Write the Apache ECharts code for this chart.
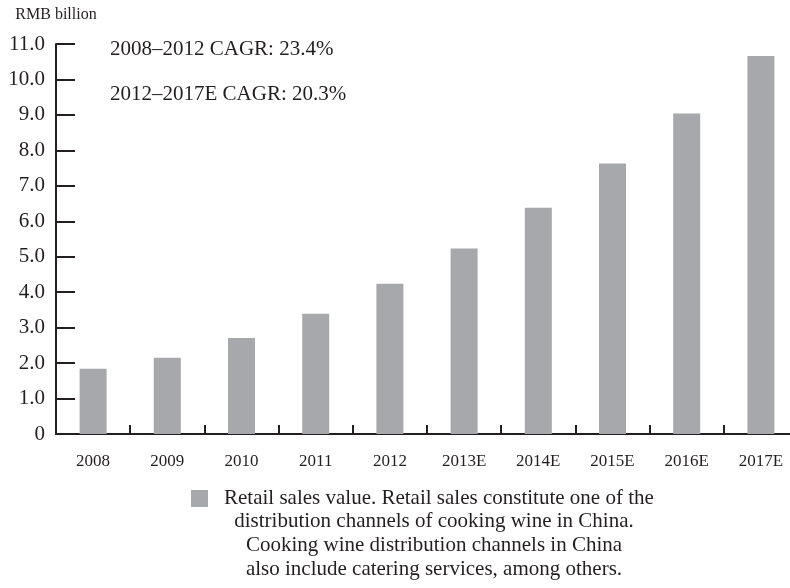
<!DOCTYPE html>
<html>
<head>
<meta charset="utf-8">
<script src="https://cdn.jsdelivr.net/npm/echarts@6/dist/echarts.min.js"></script>
<style>
  html, body { margin: 0; padding: 0; background: #ffffff; }
  #chart { width: 790px; height: 588px; }
</style>
</head>
<body>
<div id="chart"></div>
<script>
// Retail sales value of cooking wine in China, RMB billion
const years = ['2008', '2009', '2010', '2011', '2012', '2013E', '2014E', '2015E', '2016E', '2017E'];
const retailSales = [1.84, 2.15, 2.71, 3.39, 4.24, 5.23, 6.38, 7.63, 9.04, 10.66];
const yTickLabels = ['0', '1.0', '2.0', '3.0', '4.0', '5.0', '6.0', '7.0', '8.0', '9.0', '10.0', '11.0'];
const cagrNotes = ['2008\u20132012 CAGR: 23.4%', '2012\u20132017E CAGR: 20.3%'];
const legendLines = [
  'Retail sales value. Retail sales constitute one of the',
  'distribution channels of cooking wine in China.',
  'Cooking wine distribution channels in China',
  'also include catering services, among others.'
];

const ink = '#231f20';
const barGrey = '#a7a8ab';
const serif = '"Liberation Serif", "Times New Roman", serif';

const chart = echarts.init(document.getElementById('chart'), null, { renderer: 'canvas' });

chart.setOption({
  animation: false,
  backgroundColor: '#ffffff',
  textStyle: { fontFamily: serif, color: ink },
  // plot area runs slightly past the right edge, so the last band is cut off
  grid: { left: 56, top: 44, height: 390, width: 742, containLabel: false, outerBoundsMode: 'none' },
  legend: {
    show: true,
    left: 186,
    top: 483,
    itemWidth: 17,
    itemHeight: 17,
    icon: 'rect',
    data: ['Retail sales value'],
    formatter: function () { return legendLines[0]; },
    textStyle: { fontFamily: serif, fontSize: 21, color: ink, padding: [0, 0, 0, 11] }
  },
  xAxis: {
    type: 'category',
    data: years,
    boundaryGap: true,
    axisLine: { show: true, lineStyle: { color: ink, width: 2 } },
    axisTick: { show: true, inside: true, length: 9, alignWithLabel: false, lineStyle: { color: ink, width: 2 } },
    axisLabel: { color: ink, fontFamily: serif, fontSize: 17, margin: 19, interval: 0 },
    splitLine: { show: false }
  },
  yAxis: {
    type: 'value',
    min: 0,
    max: 11,
    interval: 1,
    name: 'RMB billion',
    nameLocation: 'end',
    nameGap: 21,
    nameTextStyle: { color: ink, fontFamily: serif, fontSize: 16, align: 'center' },
    axisLine: { show: true, lineStyle: { color: ink, width: 2 } },
    axisTick: { show: true, inside: true, length: 19, lineStyle: { color: ink, width: 2 } },
    axisLabel: {
      color: ink,
      fontFamily: serif,
      fontSize: 21,
      margin: 11,
      formatter: function (v) { return yTickLabels[Math.round(v)]; }
    },
    splitLine: { show: false }
  },
  series: [{
    name: 'Retail sales value',
    type: 'bar',
    data: retailSales,
    barWidth: 27,
    itemStyle: { color: barGrey },
    label: { show: false }
  }],
  graphic: [
    {
      type: 'text', left: 110, top: 39,
      style: { text: cagrNotes[0], font: '21px ' + serif, fill: ink }
    },
    {
      type: 'text', left: 110, top: 84,
      style: { text: cagrNotes[1], font: '21px ' + serif, fill: ink }
    },
    {
      type: 'text', x: 434, y: 509,
      style: {
        text: legendLines.slice(1).join('\n'),
        font: '21px ' + serif,
        fill: ink,
        align: 'center',
        verticalAlign: 'top',
        lineHeight: 24
      }
    }
  ]
});
</script>
</body>
</html>
